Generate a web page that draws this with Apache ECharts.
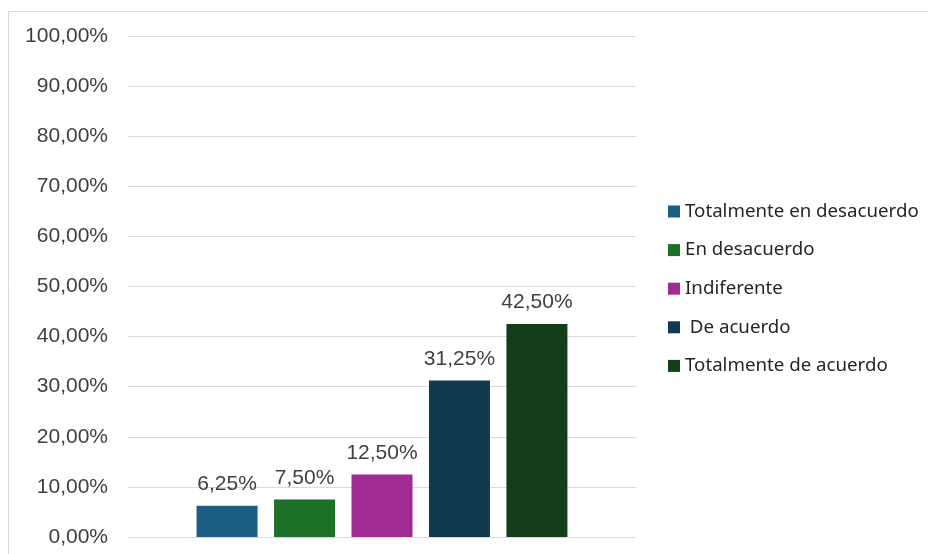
<!DOCTYPE html>
<html>
<head>
<meta charset="utf-8">
<script src="https://cdn.jsdelivr.net/npm/echarts@6/dist/echarts.min.js"></script>
<style>html,body{margin:0;padding:0;background:#fff}#c{width:928px;height:554px}</style>
</head>
<body>
<div id="c"></div>
<script>
var seriesNames = ['Totalmente en desacuerdo', 'En desacuerdo', 'Indiferente', 'De acuerdo', 'Totalmente de acuerdo'];
var legendNames = ['Totalmente en desacuerdo', 'En desacuerdo', 'Indiferente', ' De acuerdo', 'Totalmente de acuerdo'];
var values = [6.25, 7.50, 12.50, 31.25, 42.50];
var colors = ['#1a5e84', '#1d7028', '#a02b93', '#113a52', '#123f1a'];
var categories = [''];
var yTicks = [0, 10, 20, 30, 40, 50, 60, 70, 80, 90, 100];

function pct(v) { return v.toFixed(2).replace('.', ',') + '%'; }

var chart = echarts.init(document.getElementById('c'), null, {renderer: 'canvas'});
var series = values.map(function (v, i) {
  return {
    name: legendNames[i],
    type: 'bar',
    data: [v],
    barWidth: 61,
    barGap: '27%',
    itemStyle: {color: colors[i]},
    label: {
      show: true, position: 'top', distance: 11,
      formatter: function (p) { return pct(p.value); },
      color: '#404040', fontSize: 21, fontFamily: 'Liberation Sans'
    }
  };
});
chart.setOption({
  animation: false,
  backgroundColor: '#fff',
  graphic: [{
    type: 'rect', shape: {x: 8.5, y: 11.5, width: 1000, height: 1000},
    style: {fill: 'none', stroke: '#d9d9d9', lineWidth: 1}, silent: true, z: -1
  }],
  grid: {left: 128, right: 292, top: 36, bottom: 17, containLabel: false},
  legend: {
    orient: 'vertical', left: 663, top: 197, itemGap: 19.6,
    itemWidth: 12, itemHeight: 12, icon: 'rect',
    textStyle: {color: '#262626', fontSize: 18.7, fontFamily: 'Noto Sans'},
    data: legendNames
  },
  xAxis: {
    type: 'category', data: categories,
    axisLine: {show: false}, axisTick: {show: false}, axisLabel: {show: false}
  },
  yAxis: {
    type: 'value', min: 0, max: 100, interval: 10,
    axisLine: {show: false}, axisTick: {show: false},
    splitLine: {lineStyle: {color: '#d9d9d9', width: 1}},
    axisLabel: {
      margin: 20, color: '#404040', fontSize: 21, fontFamily: 'Liberation Sans',
      formatter: function (v) { return pct(v); }
    }
  },
  series: series
});
</script>
</body>
</html>
